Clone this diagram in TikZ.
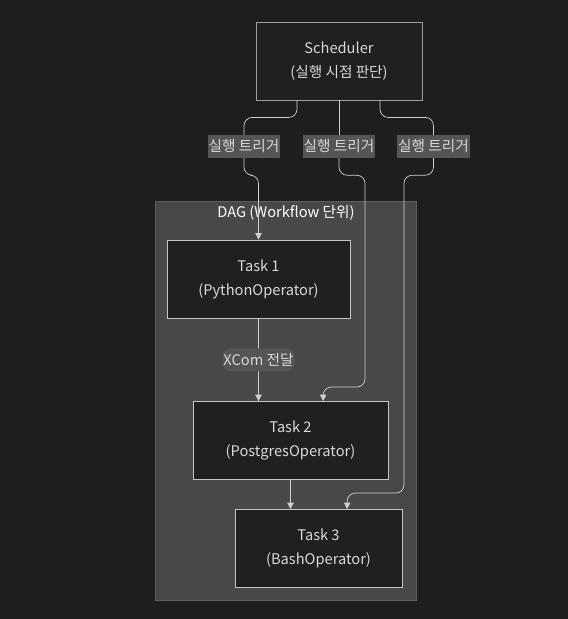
\documentclass[tikz,border=0pt]{standalone}
\usepackage{fontspec}
\setmainfont{Noto Sans CJK KR}
\usetikzlibrary{arrows.meta}
\definecolor{fond}{HTML}{1E1E1E}
\definecolor{grappe}{HTML}{484848}
\definecolor{bordgrappe}{HTML}{5E5E5E}
\definecolor{boite}{HTML}{1F2020}
\definecolor{trait}{HTML}{CFCFCF}
\definecolor{texte}{HTML}{D8D8D8}
\definecolor{etiq}{HTML}{555555}
\tikzset{
  tache/.style={draw=#1,fill=boite,text=texte,align=center,minimum height=2.34cm,
    inner sep=0pt,font=\fontsize{12.5}{20.5}\selectfont,line width=0.7pt},
  tache/.default={trait!95!black},
  lien/.style={draw=trait,line width=0.6pt,rounded corners=7pt,
    -{Triangle[width=5.5pt,length=5.5pt]}},
  seg/.style={draw=trait,line width=0.6pt,rounded corners=7pt},
  etiquette/.style={fill=etiq,text=texte,inner xsep=0.8pt,inner ysep=0pt,minimum height=0.69cm,
    font=\fontsize{12.5}{14}\selectfont}
}
\begin{document}
\begin{tikzpicture}[x=0.03cm,y=-0.03cm]% ------ Scheduler et DAG ----------------
    \useasboundingbox [fill=fond] (0,0) rectangle (568,619);
    \draw [fill=grappe,draw=bordgrappe,line width=0.6pt] (155,201) rectangle (416,600);
    \node [text=white,font=\fontsize{12.5}{14}\selectfont] (titre) at (286,213) {DAG (Workflow 단위)};
    \node [tache=gray!75,minimum width=4.98cm] (sched) at (339,61) {Scheduler\\(실행 시점 판단)};
    \node [tache,minimum width=5.49cm] (t1) at (258.5,279) {Task 1\\(PythonOperator)};
    \node [tache,minimum width=5.85cm] (t2) at (290.5,440.5) {Task 2\\(PostgresOperator)};
    \node [tache,minimum width=5.01cm] (t3) at (318.5,548.5) {Task 3\\(BashOperator)};
    \node [etiquette] (l1) at (244,146.5) {실행 트리거};
    \node [etiquette] (l2) at (339,146.5) {실행 트리거};
    \node [etiquette] (l3) at (433.5,146.5) {실행 트리거};
    % declencheurs
    \draw [seg] ([xshift=-1.26cm]sched.south) -- ++(0,17) -| (l1.north);
    \draw [lien] (l1.south) -- ++(0,17) -| (t1.north);
    \draw [seg] (sched.south) -- (l2.north);
    \draw [lien] (l2.south) -- ++(0,17) -| (365,387) -| ([xshift=0.98cm]t2.north);
    \draw [seg] ([xshift=1.23cm]sched.south) -- ++(0,17) -| (l3.north);
    \draw [lien] (l3.south) -- ++(0,17) -| (404,493) -| ([xshift=0.86cm]t3.north);
    % entre taches
    \draw [lien] (t1.south) -- (t1.south |- t2.north) node [etiquette,midway] (xc) {XCom 전달};
    \draw [lien] (t2.south) -- (t2.south |- t3.north);
\end{tikzpicture}
\end{document}
